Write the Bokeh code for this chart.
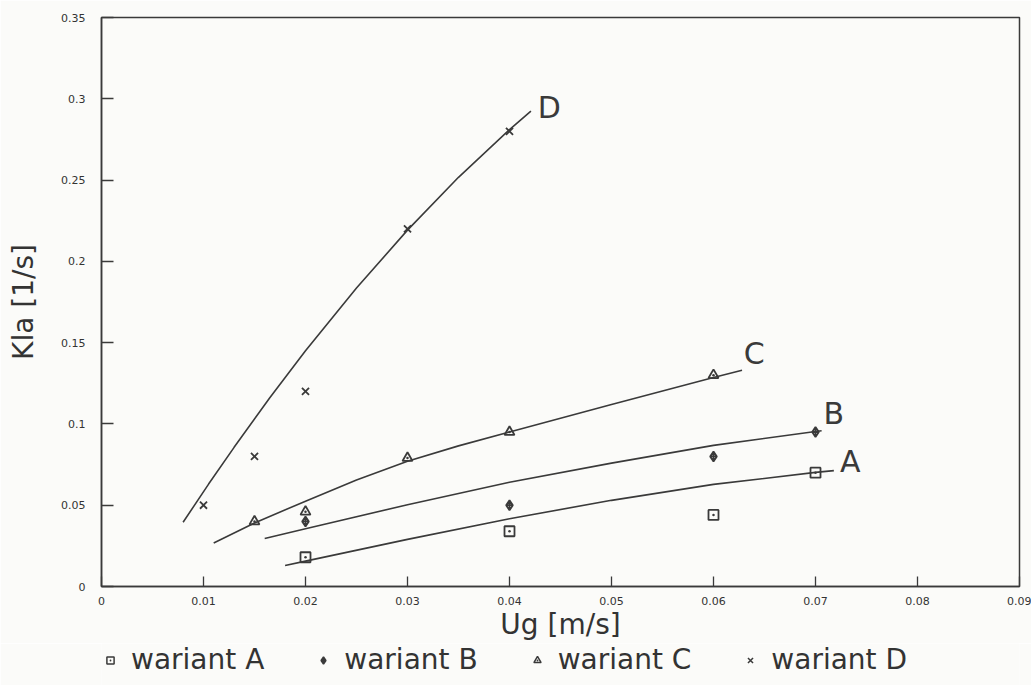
from bokeh.plotting import figure
from bokeh.models import Range1d, Legend, LegendItem, FixedTicker
from bokeh.layouts import column
from bokeh.embed import file_html
from bokeh.resources import INLINE
from bokeh.core.properties import value

# ---- measured points ----
ug_A = [0.02, 0.04, 0.06, 0.07]
kla_A = [0.018, 0.034, 0.044, 0.070]
ug_B = [0.02, 0.04, 0.06, 0.07]
kla_B = [0.040, 0.050, 0.080, 0.095]
ug_C = [0.015, 0.02, 0.03, 0.04, 0.06]
kla_C = [0.040, 0.046, 0.079, 0.095, 0.130]
ug_D = [0.01, 0.015, 0.02, 0.03, 0.04]
kla_D = [0.050, 0.080, 0.120, 0.220, 0.280]

# ---- hand-drawn trend curves ----
curve_A_x = [0.018, 0.020, 0.030, 0.040, 0.050, 0.060, 0.070, 0.0718]
curve_A_y = [0.0129, 0.0156, 0.0290, 0.0417, 0.0530, 0.0628, 0.0702, 0.0713]
curve_B_x = [0.016, 0.020, 0.030, 0.040, 0.050, 0.060, 0.070, 0.0706]
curve_B_y = [0.0295, 0.0355, 0.0503, 0.0641, 0.0759, 0.0868, 0.0953, 0.0958]
curve_C_x = [0.011, 0.015, 0.020, 0.025, 0.030, 0.035, 0.040, 0.050, 0.060, 0.0628]
curve_C_y = [0.0268, 0.0391, 0.0525, 0.0655, 0.0770, 0.0865, 0.0950, 0.1120, 0.1285, 0.1330]
curve_D_x = [0.008, 0.0105, 0.013, 0.0165, 0.020, 0.025, 0.030, 0.035, 0.040, 0.0421]
curve_D_y = [0.0395, 0.0630, 0.0856, 0.1161, 0.1450, 0.1836, 0.2192, 0.2517, 0.2810, 0.2924]

series_names = ["wariant A", "wariant B", "wariant C", "wariant D"]
curve_letters = ["A", "B", "C", "D"]

x_ticks = [0, 0.01, 0.02, 0.03, 0.04, 0.05, 0.06, 0.07, 0.08, 0.09]
x_tick_labels = ["0", "0.01", "0.02", "0.03", "0.04", "0.05", "0.06", "0.07", "0.08", "0.09"]
y_ticks = [0, 0.05, 0.1, 0.15, 0.2, 0.25, 0.3, 0.35]
y_tick_labels = ["0", "0.05", "0.1", "0.15", "0.2", "0.25", "0.3", "0.35"]

BG = "#fbfbf9"
INK = "#3a3a3a"
TXT = "#333333"
FONT = "DejaVu Sans"

p = figure(width=1031, height=643, x_range=Range1d(0, 0.09), y_range=Range1d(0, 0.35),
           output_backend="svg", toolbar_location=None,
           min_border_left=101, min_border_right=12, min_border_top=17, min_border_bottom=56,
           background_fill_color=BG, border_fill_color=BG)
p.outline_line_color = INK
p.outline_line_width = 1.5
p.grid.visible = False

p.xaxis.ticker = FixedTicker(ticks=x_ticks)
p.xaxis.major_label_overrides = {v: s for v, s in zip(x_ticks, x_tick_labels)}
p.yaxis.ticker = FixedTicker(ticks=y_ticks)
p.yaxis.major_label_overrides = {v: s for v, s in zip(y_ticks, y_tick_labels)}

for ax in (p.xaxis[0], p.yaxis[0]):
    ax.axis_line_color = INK
    ax.axis_line_width = 1.5
    ax.major_tick_line_color = INK
    ax.major_tick_line_width = 1.3
    ax.major_tick_out = 0
    ax.minor_tick_in = 0
    ax.minor_tick_out = 0
    ax.major_label_text_font = FONT
    ax.major_label_text_font_size = "11px"
    ax.major_label_text_color = TXT
    ax.axis_label_text_font = FONT
    ax.axis_label_text_font_style = "normal"
    ax.axis_label_text_color = TXT
p.xaxis.major_tick_in = 10
p.yaxis.major_tick_in = 12
p.xaxis.major_label_standoff = 10
p.yaxis.major_label_standoff = 16

p.yaxis.axis_label = "Kla [1/s]"
p.yaxis.axis_label_text_font_size = "28px"
p.yaxis.axis_label_standoff = 18

p.xaxis.axis_label = "Ug [m/s]"
p.xaxis.axis_label_text_font_size = "28px"
p.xaxis.axis_label_standoff = 0

curves = [(curve_A_x, curve_A_y), (curve_B_x, curve_B_y), (curve_C_x, curve_C_y), (curve_D_x, curve_D_y)]
for cx, cy in curves:
    p.line(cx, cy, line_color=INK, line_width=1.6)

markers = ["square_dot", "diamond_cross", "triangle_dot", "x"]
pts = [(ug_A, kla_A), (ug_B, kla_B), (ug_C, kla_C), (ug_D, kla_D)]
for (xs, ys), m in zip(pts, markers):
    p.scatter(xs, ys, marker=m, size=10, line_color=INK, fill_color=None, line_width=1.8)

label_pos = [(0.0734, 0.0767), (0.0718, 0.1062), (0.0640, 0.1436), (0.0439, 0.2947)]
for (lx, ly), t in zip(label_pos, curve_letters):
    p.text([lx], [ly], text=[t], text_font=value(FONT), text_font_size="30px",
           text_align="center", text_baseline="middle", text_color=INK)

# ---- legend strip under the chart (same series, ranges chosen so that only the key shows) ----
leg = figure(width=1031, height=42, x_range=Range1d(1, 2), y_range=Range1d(1, 2),
             output_backend="svg", toolbar_location=None,
             x_axis_location=None, y_axis_location=None,
             min_border_left=101, min_border_right=12, min_border_top=0, min_border_bottom=0,
             background_fill_color=BG, border_fill_color=BG)
leg.outline_line_color = None
leg.grid.visible = False
leg_rends = [leg.scatter(xs, ys, marker=m, size=10, line_color=INK, fill_color=None, line_width=1.5)
             for (xs, ys), m in zip(pts, markers)]
legend = Legend(items=[LegendItem(label=n, renderers=[r]) for n, r in zip(series_names, leg_rends)],
                orientation="horizontal", location="top_left", margin=0, padding=0,
                border_line_color=None, background_fill_alpha=0,
                label_text_font=FONT, label_text_font_size="28px", label_text_color=TXT,
                glyph_width=18, glyph_height=30, label_standoff=12, spacing=50)
leg.add_layout(legend, "center")

open("out.html", "w").write(file_html(column(p, leg, spacing=0), INLINE))
